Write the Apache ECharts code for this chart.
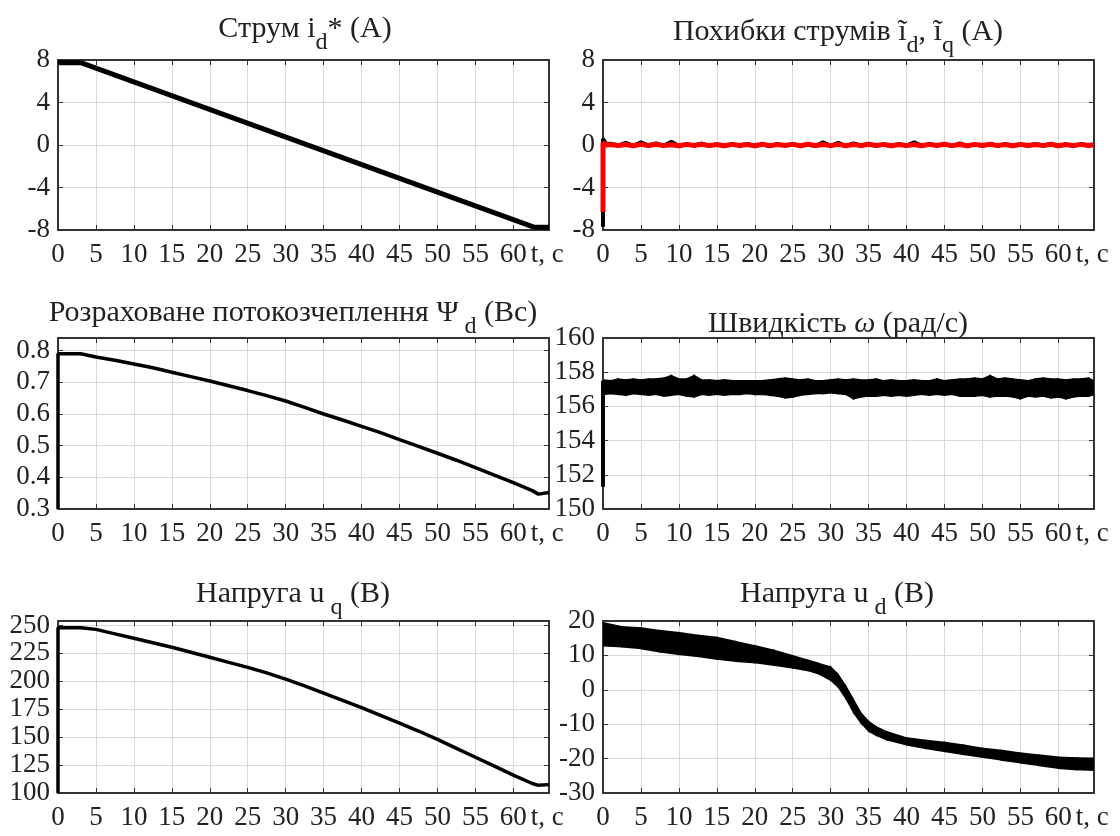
<!DOCTYPE html>
<html><head><meta charset="utf-8">
<script src="https://cdn.jsdelivr.net/npm/echarts@6/dist/echarts.min.js"></script>
<style>html,body{margin:0;padding:0;background:#fff}#c{width:1120px;height:836px}</style>
</head><body><div id="c"></div>
<script>
// ---------- data ----------
const T_MAX = 64.7;

// i_d* reference current
const idT = [0, 3, 62.8, 64.7];
const idV = [7.75, 7.75, -7.75, -7.75];

// current errors (black: i_d error, red: i_q error)
const errT = [0, 0, 0.4,
  1, 2, 3, 4, 5, 6, 7, 8, 9, 10, 11, 12, 13, 14, 15, 16,
  17, 18, 19, 20, 21, 22, 23, 24, 25, 26, 27, 28, 29, 30, 31, 32,
  33, 34, 35, 36, 37, 38, 39, 40, 41, 42, 43, 44, 45, 46, 47, 48,
  49, 50, 51, 52, 53, 54, 55, 56, 57, 58, 59, 60, 61, 62, 63, 64, 64.7];
const errD = [-7.7, 0.6, 0.1,
  0.12, -0.05, 0.2, -0.08, 0.25, -0.05, 0.15, -0.08,
  0.3, -0.1, 0.08, -0.05, 0.12, -0.08, 0.05, -0.1,
  0.08, -0.05, 0.1, -0.08, 0.05, -0.1, 0.08, -0.05,
  0.1, -0.08, 0.05, -0.1, 0.25, -0.08, 0.2, -0.1,
  0.15, -0.05, 0.08, -0.08, 0.05, -0.1, 0.08, -0.05,
  0.25, -0.08, 0.1, -0.05, 0.08, -0.1, 0.15, -0.08,
  0.05, -0.08, 0.1, -0.05, 0.08, -0.1, 0.05, -0.08,
  0.1, -0.05, 0.08, -0.1, 0.05, -0.08, 0.1, -0.05, 0.05];
const errQ = [-6.3, 0.2, 0.0,
  0.05, -0.06, 0.04, -0.07, 0.06, -0.05, 0.07, -0.06,
  0.03, -0.07, 0.06, -0.04, 0.07, -0.06, 0.05, -0.07,
  0.06, -0.05, 0.04, -0.07, 0.07, -0.06, 0.05, -0.04,
  0.06, -0.07, 0.07, -0.05, 0.04, -0.06, 0.06, -0.07,
  0.05, -0.06, 0.07, -0.04, 0.06, -0.07, 0.05, -0.06,
  0.04, -0.07, 0.06, -0.05, 0.07, -0.06, 0.05, -0.07,
  0.06, -0.04, 0.07, -0.06, 0.05, -0.07, 0.06, -0.05,
  0.04, -0.06, 0.07, -0.07, 0.05, -0.06, 0.06, -0.04, 0.03];

// estimated flux linkage Psi_d
const psiT = [0, 0, 3, 5, 7.5, 10, 12.5, 15, 17.5, 20, 22.5, 25, 27.5, 30, 32.5, 35,
  37.5, 40, 42.5, 45, 47.5, 50, 52.5, 55, 57.5, 60, 62.5, 63.3, 64.7];
const psiV = [0.3, 0.79, 0.79, 0.78, 0.77, 0.758, 0.746, 0.732, 0.718, 0.704, 0.689, 0.674,
  0.658, 0.641, 0.621, 0.600, 0.581, 0.561, 0.541, 0.519, 0.498, 0.476, 0.454, 0.431,
  0.407, 0.383, 0.358, 0.347, 0.352];

// speed omega: start spike and noise envelope
const wSpikeT = [0, 0];
const wSpikeV = [151.3, 157.5];
const wT = [0, 1, 2, 3, 4, 5, 6, 7, 8, 9, 10, 11, 12, 13, 14, 15, 16, 17, 18, 19, 20,
  21, 22, 23, 24, 25, 26, 27, 28, 29, 30, 31, 32, 33, 34, 35, 36, 37, 38, 39, 40,
  41, 42, 43, 44, 45, 46, 47, 48, 49, 50, 51, 52, 53, 54, 55, 56, 57, 58, 59, 60,
  61, 62, 63, 64, 64.7];
const wHi = [157.55, 157.5, 157.6, 157.55, 157.6, 157.55, 157.6, 157.6, 157.65, 157.8, 157.6,
  157.6, 157.8, 157.55, 157.55, 157.5, 157.55, 157.5, 157.5, 157.5, 157.5,
  157.5, 157.55, 157.6, 157.65, 157.6, 157.55, 157.6, 157.5, 157.5, 157.55,
  157.6, 157.55, 157.6, 157.55, 157.55, 157.6, 157.5, 157.55, 157.5, 157.5,
  157.55, 157.5, 157.5, 157.6, 157.5, 157.55, 157.6, 157.6, 157.65, 157.6,
  157.8, 157.6, 157.65, 157.6, 157.55, 157.5, 157.6, 157.65, 157.6, 157.6,
  157.55, 157.6, 157.6, 157.65, 157.5];
const wLo = [156.7, 156.75, 156.7, 156.65, 156.75, 156.7, 156.65, 156.7, 156.6, 156.65, 156.7,
  156.6, 156.55, 156.7, 156.65, 156.7, 156.65, 156.7, 156.7, 156.75, 156.7,
  156.7, 156.65, 156.6, 156.5, 156.55, 156.65, 156.7, 156.75, 156.75, 156.8,
  156.75, 156.7, 156.45, 156.55, 156.6, 156.6, 156.65, 156.6, 156.65, 156.6,
  156.65, 156.7, 156.65, 156.7, 156.65, 156.7, 156.6, 156.6, 156.6, 156.65,
  156.55, 156.6, 156.6, 156.55, 156.45, 156.6, 156.55, 156.6, 156.5, 156.55,
  156.45, 156.55, 156.6, 156.6, 156.7];

// voltage u_q
const uqT = [0, 0, 3, 5, 7.5, 10, 12.5, 15, 17.5, 20, 22.5, 25, 27.5, 30, 32.5, 35,
  37.5, 40, 42.5, 45, 47.5, 50, 52.5, 55, 57.5, 60, 62.5, 63.2, 64.7];
const uqV = [100, 248, 248, 246.5, 242.5, 238.5, 234.5, 230.5, 226, 221.5, 217, 212.5,
  207.5, 202, 196, 189.5, 183, 176.5, 169.5, 162.5, 155.5, 148, 140, 132, 124, 116,
  108.5, 107, 107.5];

// voltage u_d: noise envelope
const udT = [0, 2.5, 5, 7.5, 10, 12.5, 15, 17.5, 20, 22.5, 25, 27, 28.5, 30, 31, 32, 33,
  34, 35, 36, 37.5, 40, 42.5, 45, 47.5, 50, 52.5, 55, 57.5, 60, 62.5, 64.7];
const udHi = [19.5, 18.3, 18, 17.2, 16.6, 15.8, 15.2, 14, 12.8, 11.5, 9.9, 8.6, 7.6, 6.6,
  4.4, 1.0, -2.9, -6.8, -9.2, -10.8, -12.3, -14, -14.7, -15.3, -16.1, -17, -17.6,
  -18.4, -19, -19.6, -19.8, -19.9];
const udLo = [12.8, 12.5, 12, 11, 10.3, 9.7, 8.9, 8.3, 7.9, 7.2, 6.4, 5.6, 4.6, 2.8,
  0.8, -2.5, -6.5, -9.6, -12, -13.2, -14.6, -16, -17, -17.9, -18.8, -19.6, -20.4,
  -21.2, -22, -22.8, -23.2, -23.4];

// axis ranges per panel
const yMin = [-8, -8, 0.3, 150, 100, -30];
const yMax = [8, 8, 0.84, 160, 254, 20];
const yStep = [4, 4, 0.1, 2, 25, 10];

// ---------- chart ----------
const FONT = '"Liberation Serif", "Times New Roman", serif';
const AX = '#333';
const TXT = '#222';
const GRIDC = '#d9d9d9';
const grids = [
  {left: 58, top: 60, width: 491, height: 170},
  {left: 603, top: 60, width: 491, height: 170},
  {left: 58, top: 338, width: 491, height: 171},
  {left: 603, top: 338, width: 491, height: 171},
  {left: 58, top: 621, width: 491, height: 172},
  {left: 603, top: 621, width: 491, height: 172}
];
const zip = (a, b) => a.map((t, i) => [t, b[i]]);
const near = (v, s, m) => Math.abs((v - m) / s - Math.round((v - m) / s)) < 1e-6;

const xAxes = [], yAxes = [];
grids.forEach((g, i) => {
  xAxes.push({
    gridIndex: i, type: 'value', min: 0, max: T_MAX, interval: 5, position: 'bottom',
    axisLine: {show: true, onZero: false, lineStyle: {color: AX, width: 2}},
    axisTick: {show: true, inside: true, length: 5, lineStyle: {color: AX, width: 1}},
    axisLabel: {show: true, margin: 11, fontFamily: FONT, fontSize: 27, color: TXT,
      formatter: v => near(v, 5, 0) ? String(Math.round(v)) : ''},
    splitLine: {show: true, lineStyle: {color: GRIDC, width: 1}},
    name: 't, с', nameLocation: 'end', nameGap: -4,
    nameTextStyle: {fontFamily: FONT, fontSize: 27, color: TXT, align: 'center',
      verticalAlign: 'top', padding: [11, 0, 0, 0]}
  });
  xAxes.push({
    gridIndex: i, type: 'value', min: 0, max: T_MAX, interval: 5, position: 'top',
    axisLine: {show: true, onZero: false, lineStyle: {color: AX, width: 2}},
    axisTick: {show: true, inside: true, length: 5, lineStyle: {color: AX, width: 1}},
    axisLabel: {show: false}, splitLine: {show: false}
  });
  const dec = yStep[i] < 1 ? 1 : 0;
  yAxes.push({
    gridIndex: i, type: 'value', min: yMin[i], max: yMax[i], interval: yStep[i], position: 'left',
    axisLine: {show: true, onZero: false, lineStyle: {color: AX, width: 2}},
    axisTick: {show: true, inside: true, length: 5, lineStyle: {color: AX, width: 1}},
    axisLabel: {show: true, margin: 8, fontFamily: FONT, fontSize: 27, color: TXT,
      formatter: v => near(v, yStep[i], yMin[i]) ? v.toFixed(dec) : ''},
    splitLine: {show: true, lineStyle: {color: GRIDC, width: 1}}
  });
  yAxes.push({
    gridIndex: i, type: 'value', min: yMin[i], max: yMax[i], interval: yStep[i], position: 'right',
    axisLine: {show: true, onZero: false, lineStyle: {color: AX, width: 2}},
    axisTick: {show: true, inside: true, length: 5, lineStyle: {color: AX, width: 1}},
    axisLabel: {show: false}, splitLine: {show: false}
  });
});

const lineS = (gi, data, color, w, z) => ({
  type: 'line', xAxisIndex: 2 * gi, yAxisIndex: 2 * gi, data: data,
  showSymbol: false, symbol: 'none', animation: false, z: z || 2,
  lineStyle: {color: color, width: w, join: 'bevel'}
});
// noise band: each item is one quadrilateral between consecutive envelope samples
const bandS = (gi, t, lo, hi) => ({
  type: 'custom', xAxisIndex: 2 * gi, yAxisIndex: 2 * gi, clip: true, animation: false, z: 2,
  data: t.slice(0, -1).map((tt, k) => [tt, lo[k], hi[k], t[k + 1], lo[k + 1], hi[k + 1]]),
  encode: {x: [0, 3], y: [1, 2, 4, 5]},
  renderItem: (params, api) => {
    const p1 = api.coord([api.value(0), api.value(1)]);
    const p2 = api.coord([api.value(0), api.value(2)]);
    const p3 = api.coord([api.value(3), api.value(5)]);
    const p4 = api.coord([api.value(3), api.value(4)]);
    return {type: 'polygon', shape: {points: [p1, p2, p3, p4]},
      style: {fill: '#000', stroke: '#000', lineWidth: 1.5}};
  }
});

const series = [
  lineS(0, zip(idT, idV), '#000', 5),
  lineS(1, zip(errT, errD), '#000', 4),
  lineS(1, zip(errT, errQ), '#ff0000', 5, 3),
  lineS(2, zip(psiT, psiV), '#000', 3.5),
  lineS(3, zip(wSpikeT, wSpikeV), '#000', 4),
  bandS(3, wT, wLo, wHi),
  lineS(4, zip(uqT, uqV), '#000', 3.5),
  bandS(5, udT, udLo, udHi)
];

const base = {fontFamily: FONT, fontWeight: 'normal', color: TXT};
const rich = {
  n: Object.assign({fontSize: 30, lineHeight: 30, verticalAlign: 'top'}, base),
  s: Object.assign({fontSize: 24, lineHeight: 24, verticalAlign: 'top', padding: [17, 0, 0, 0]}, base),
  w: Object.assign({fontSize: 30, fontStyle: 'italic', lineHeight: 30, verticalAlign: 'top'}, base)
};
const mkTitle = (text, cx, cy) => ({
  text: text, left: cx, top: cy - 14, textAlign: 'center', padding: 0,
  textStyle: Object.assign({fontSize: 30, rich: rich}, base)
});
const titles = [
  mkTitle('{n|Струм i}{s|d}{n|* (А)}', 305, 28),
  mkTitle('{n|Похибки струмів ĩ}{s|d}{n|, ĩ}{s|q}{n| (А)}', 838, 31),
  mkTitle('{n|Розраховане потокозчеплення Ψ}{s| d}{n| (Вс)}', 293, 312),
  mkTitle('{n|Швидкість }{w|ω}{n| (рад/с)}', 838, 323),
  mkTitle('{n|Напруга u}{s| q}{n| (В)}', 293, 593),
  mkTitle('{n|Напруга u}{s| d}{n| (В)}', 837, 593)
];

const chart = echarts.init(document.getElementById('c'), null, {renderer: 'canvas'});
chart.setOption({
  backgroundColor: '#fff',
  animation: false,
  title: titles,
  grid: grids.map(g => Object.assign({containLabel: false}, g)),
  xAxis: xAxes,
  yAxis: yAxes,
  series: series
});
</script>
</body></html>
